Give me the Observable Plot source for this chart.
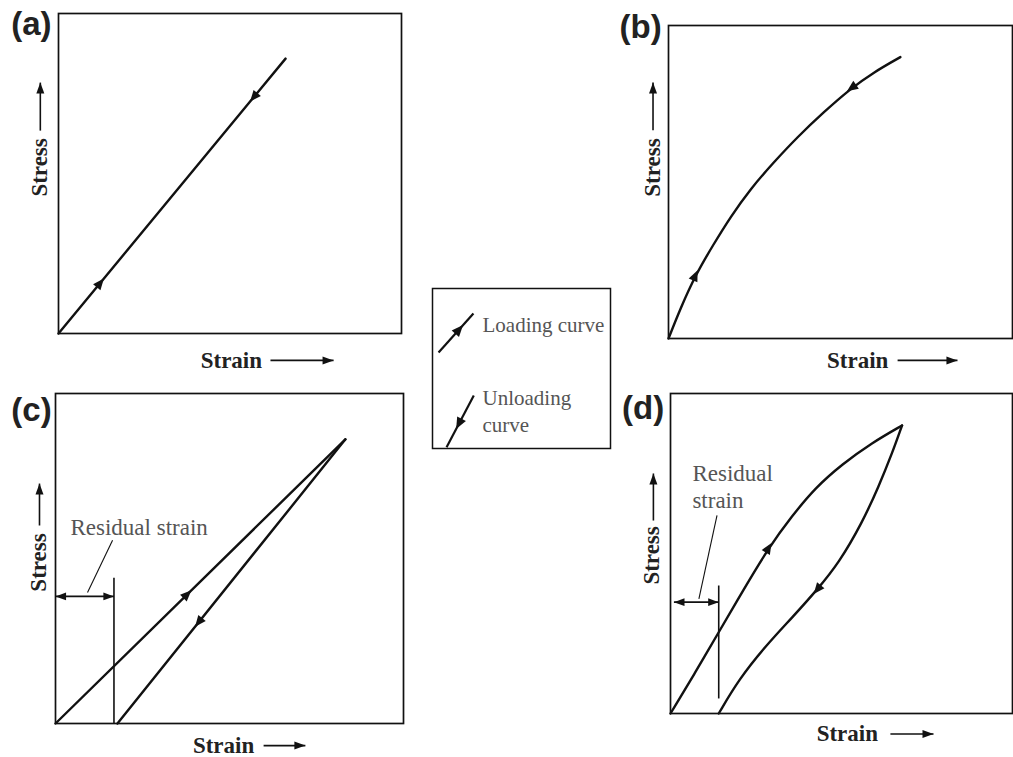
<!DOCTYPE html>
<html>
<head>
<meta charset="utf-8">
<script src="https://cdn.jsdelivr.net/npm/d3@7"></script>
<script src="https://cdn.jsdelivr.net/npm/@observablehq/plot@0.6"></script>
<style>
  body { margin: 0; background: #fff; }
  #fig { position: relative; width: 1013px; height: 757px; overflow: hidden; background: #fff; }
  #fig > svg { position: absolute; }
</style>
</head>
<body>
<div id="fig"></div>
<script>
// Stress–strain sketches, all values in relative units (0–100 of each panel).

// (a) Linear elastic: loading and unloading follow the same straight line
const aStrain = [0, 66.2];
const aStress = [0, 85.9];

// (b) Nonlinear elastic: one curved path, traced up and back down
const bStrain = [0, 3.5, 7.8, 13.2, 18.0, 23.8, 30.6, 37.4, 45.1, 52.9, 59.7, 67.4];
const bStress = [0, 9.7, 20.2, 30.3, 38.8, 47.8, 56.3, 64.3, 72.3, 79.8, 85.1, 89.9];

// (c) Linear inelastic: straight loading, steeper straight unloading
const cLoadStrain = [0, 83.3];
const cLoadStress = [0, 86.1];
const cUnloadStrain = [83.3, 17.8];
const cUnloadStress = [86.1, 0];
const cResidual = 16.8;

// (d) Nonlinear inelastic: hysteresis loop
const dLoadStrain = [0, 7.3, 14.1, 21.4, 28.7, 35.5, 42.4, 50.2, 58.9, 67.7];
const dLoadStress = [0, 12.9, 25.4, 38.8, 51.8, 61.7, 70.6, 77.9, 84.6, 90.0];
const dUnloadStrain = [67.7, 64.8, 60.9, 56.0, 49.2, 42.9, 35.6, 27.8, 20.0, 14.1];
const dUnloadStress = [90.0, 81.3, 71.0, 59.5, 47.0, 38.7, 30.0, 21.1, 10.7, 0];
const dResidual = 14.1;

// Strain values where the direction arrowheads sit
const aHeads = {load: 12.2, unload: 56.9};
const bHeads = {load: 7.8, unload: 53.2};
const cHeads = {load: 37.9, unload: 41.1};
const dHeads = {load: 28.7, unload: 42.9};

const axisTitles = {x: "Strain", y: "Stress"};
const panelTags = ["(a)", "(b)", "(c)", "(d)"];
const legendItems = [["Loading curve"], ["Unloading", "curve"]];

const ink = "#111";
const sans = "'Liberation Sans', Arial, sans-serif";
const serif = "'Liberation Serif', 'Times New Roman', serif";

// Filled triangle centred on the point, pointing along +x
const midHead = {
  draw(ctx, size) {
    const r = Math.sqrt(size / Math.PI);
    ctx.moveTo(r, 0); ctx.lineTo(-r, -0.85 * r); ctx.lineTo(-r, 0.85 * r); ctx.closePath();
  }
};
// Filled triangle with its tip on the point, pointing along +x
const tipHead = {
  draw(ctx, size) {
    const r = Math.sqrt(size / Math.PI);
    ctx.moveTo(0, 0); ctx.lineTo(-2.2 * r, -0.8 * r); ctx.lineTo(-2.2 * r, 0.8 * r); ctx.closePath();
  }
};

// Point and on-screen direction of travel along a polyline at a given strain
function headOn(xs, ys, at, fw, fh) {
  for (let i = 0; i < xs.length - 1; i++) {
    const x0 = xs[i], x1 = xs[i + 1];
    if ((at - x0) * (at - x1) <= 0) {
      const t = (at - x0) / (x1 - x0);
      const y = ys[i] + t * (ys[i + 1] - ys[i]);
      const angle = Math.atan2(-(ys[i + 1] - ys[i]) * fh, (x1 - x0) * fw) * 180 / Math.PI;
      return {strain: at, stress: y, angle};
    }
  }
}

const pts = (xs, ys) => xs.map((x, i) => ({strain: x, stress: ys[i]}));

function makePanel(p) {
  const [mt, mr, mb, ml] = p.margin;
  const fw = p.width - ml - mr, fh = p.height - mt - mb;
  const marks = [Plot.frame({stroke: ink, strokeWidth: 1.7})];

  for (const [xs, ys] of p.curves) {
    marks.push(Plot.line(pts(xs, ys), {x: "strain", y: "stress", curve: "basis", stroke: ink, strokeWidth: 2.4}));
  }
  const heads = p.heads.map(([xs, ys, at]) => headOn(xs, ys, at, fw, fh));
  marks.push(Plot.dot(heads, {x: "strain", y: "stress", rotate: "angle", symbol: midHead, r: 5.6, fill: ink, stroke: "none"}));

  // panel tag
  marks.push(Plot.text([{x: p.tag[0], y: p.tag[1], t: p.name}], {
    x: "x", y: "y", text: "t", fontFamily: sans, fontWeight: "bold", fontSize: 33, fill: "#222"
  }));
  // axis titles with arrows
  marks.push(Plot.text([{x: p.stress[0], y: p.stress[1], t: axisTitles.y}], {
    x: "x", y: "y", text: "t", rotate: -90, fontFamily: serif, fontWeight: "bold", fontSize: 23, fill: "#222"
  }));
  marks.push(Plot.text([{x: p.strain[0], y: p.strain[1], t: axisTitles.x}], {
    x: "x", y: "y", text: "t", fontFamily: serif, fontWeight: "bold", fontSize: 23, fill: "#222"
  }));
  const [sx, sy0, sy1] = p.stressArrow;
  const [ex0, ex1, ey] = p.strainArrow;
  marks.push(Plot.link([{x1: sx, y1: sy0, x2: sx, y2: sy1}, {x1: ex0, y1: ey, x2: ex1, y2: ey}], {
    x1: "x1", y1: "y1", x2: "x2", y2: "y2", stroke: ink, strokeWidth: 1.6
  }));
  marks.push(Plot.dot([{x: sx, y: sy1, a: -90}, {x: ex1, y: ey, a: 0}], {
    x: "x", y: "y", rotate: "a", symbol: tipHead, r: 5, fill: ink, stroke: "none"
  }));

  if (p.residual) {
    const R = p.residual;
    marks.push(Plot.link([
      {x1: R.x, y1: R.y0, x2: R.x, y2: R.y1, w: 1.6},
      {x1: R.arrowFrom, y1: R.arrowY, x2: R.x, y2: R.arrowY, w: 1.8},
      {x1: R.leader[0], y1: R.leader[1], x2: R.leader[2], y2: R.leader[3], w: 1.1}
    ], {x1: "x1", y1: "y1", x2: "x2", y2: "y2", strokeWidth: "w", stroke: ink}));
    marks.push(Plot.dot([{x: R.arrowFrom, y: R.arrowY, a: 180}, {x: R.x, y: R.arrowY, a: 0}], {
      x: "x", y: "y", rotate: "a", symbol: tipHead, r: 4.8, fill: ink, stroke: "none"
    }));
    marks.push(Plot.text(R.text, {
      x: "x", y: "y", text: "t", textAnchor: "start", fontFamily: serif, fontSize: 23, fill: "#555"
    }));
  }

  const svg = Plot.plot({
    width: p.width, height: p.height,
    marginTop: mt, marginRight: mr, marginBottom: mb, marginLeft: ml,
    x: {domain: [0, 100], axis: null},
    y: {domain: [0, 100], axis: null},
    style: {background: "transparent", overflow: "visible"},
    marks
  });
  svg.style.left = p.left + "px";
  svg.style.top = p.top + "px";
  return svg;
}

const rev = (a) => a.slice().reverse();

const panels = [
  {
    name: panelTags[0], left: 0, top: 0, width: 420, height: 380, margin: [13, 19, 47, 58],
    tag: [-7.9, 96.6], stress: [-5.6, 51.9], stressArrow: [-5.3, 63.4, 78.4],
    strain: [50.4, -8.4], strainArrow: [61.8, 80.2, -8.4],
    curves: [[aStrain, aStress]],
    heads: [[aStrain, aStress, aHeads.load], [rev(aStrain), rev(aStress), aHeads.unload]]
  },
  {
    name: panelTags[1], left: 600, top: 0, width: 413, height: 380, margin: [25, 1, 42, 68],
    tag: [-8.1, 99.5], stress: [-4.7, 54.6], stressArrow: [-4.5, 66.5, 81.8],
    strain: [55.0, -7.0], strainArrow: [66.6, 84.0, -7.0],
    curves: [[bStrain, bStress]],
    heads: [[bStrain, bStress, bHeads.load], [rev(bStrain), rev(bStress), bHeads.unload]]
  },
  {
    name: panelTags[2], left: 0, top: 380, width: 420, height: 377, margin: [13, 17, 34, 55],
    tag: [-6.9, 94.8], stress: [-4.9, 48.8], stressArrow: [-4.6, 60.0, 72.7],
    strain: [48.3, -6.7], strainArrow: [59.8, 71.8, -6.7],
    curves: [[cLoadStrain, cLoadStress], [cUnloadStrain, cUnloadStress]],
    heads: [[cLoadStrain, cLoadStress, cHeads.load], [cUnloadStrain, cUnloadStress, cHeads.unload]],
    residual: {
      x: cResidual, y0: 0, y1: 44.2, arrowFrom: 0, arrowY: 38.5,
      leader: [9.2, 39.7, 16.4, 55.5],
      text: [{x: 4.3, y: 59.4, t: "Residual strain"}]
    }
  },
  {
    name: panelTags[3], left: 600, top: 380, width: 413, height: 377, margin: [13, 1, 44, 70],
    tag: [-8.0, 95.3], stress: [-5.4, 49.4], stressArrow: [-5.0, 60.3, 75.0],
    strain: [51.7, -6.4], strainArrow: [64.3, 76.9, -6.4],
    curves: [[dLoadStrain, dLoadStress], [dUnloadStrain, dUnloadStress]],
    heads: [[dLoadStrain, dLoadStress, dHeads.load], [dUnloadStrain, dUnloadStress, dHeads.unload]],
    residual: {
      x: dResidual, y0: 4.7, y1: 40, arrowFrom: 1.0, arrowY: 34.8,
      leader: [8.3, 35.8, 13.6, 61.9],
      text: [{x: 6.4, y: 74.9, t: "Residual"}, {x: 6.4, y: 66.6, t: "strain"}]
    }
  }
];

const fig = document.getElementById("fig");
for (const p of panels) fig.appendChild(makePanel(p));

// Legend box explaining the arrowheads
{
  const L = {left: 425, top: 280, width: 195, height: 175, margin: [8, 10, 7, 7]};
  const fw = L.width - L.margin[1] - L.margin[3], fh = L.height - L.margin[0] - L.margin[2];
  const loadX = [3.4, 23.0], loadY = [60.0, 84.4];
  const unloadX = [23.2, 7.9], unloadY = [33.1, 0.8];
  const heads = [headOn(loadX, loadY, 15.0, fw, fh), headOn(unloadX, unloadY, 14.8, fw, fh)];
  const svg = Plot.plot({
    width: L.width, height: L.height,
    marginTop: L.margin[0], marginRight: L.margin[1], marginBottom: L.margin[2], marginLeft: L.margin[3],
    x: {domain: [0, 100], axis: null},
    y: {domain: [0, 100], axis: null},
    style: {background: "transparent", overflow: "visible"},
    marks: [
      Plot.frame({stroke: ink, strokeWidth: 1.5}),
      Plot.link([{x1: loadX[0], y1: loadY[0], x2: loadX[1], y2: loadY[1]},
                 {x1: unloadX[0], y1: unloadY[0], x2: unloadX[1], y2: unloadY[1]}],
        {x1: "x1", y1: "y1", x2: "x2", y2: "y2", stroke: ink, strokeWidth: 2.2}),
      Plot.dot(heads, {x: "strain", y: "stress", rotate: "angle", symbol: midHead, r: 5.8, fill: ink, stroke: "none"}),
      Plot.text([
        {x: 28.1, y: 76.9, t: legendItems[0][0]},
        {x: 28.1, y: 31.3, t: legendItems[1][0]},
        {x: 28.1, y: 14.4, t: legendItems[1][1]}
      ], {x: "x", y: "y", text: "t", textAnchor: "start", fontFamily: serif, fontSize: 21, fill: "#555"})
    ]
  });
  svg.style.left = L.left + "px";
  svg.style.top = L.top + "px";
  fig.appendChild(svg);
}
</script>
</body>
</html>
